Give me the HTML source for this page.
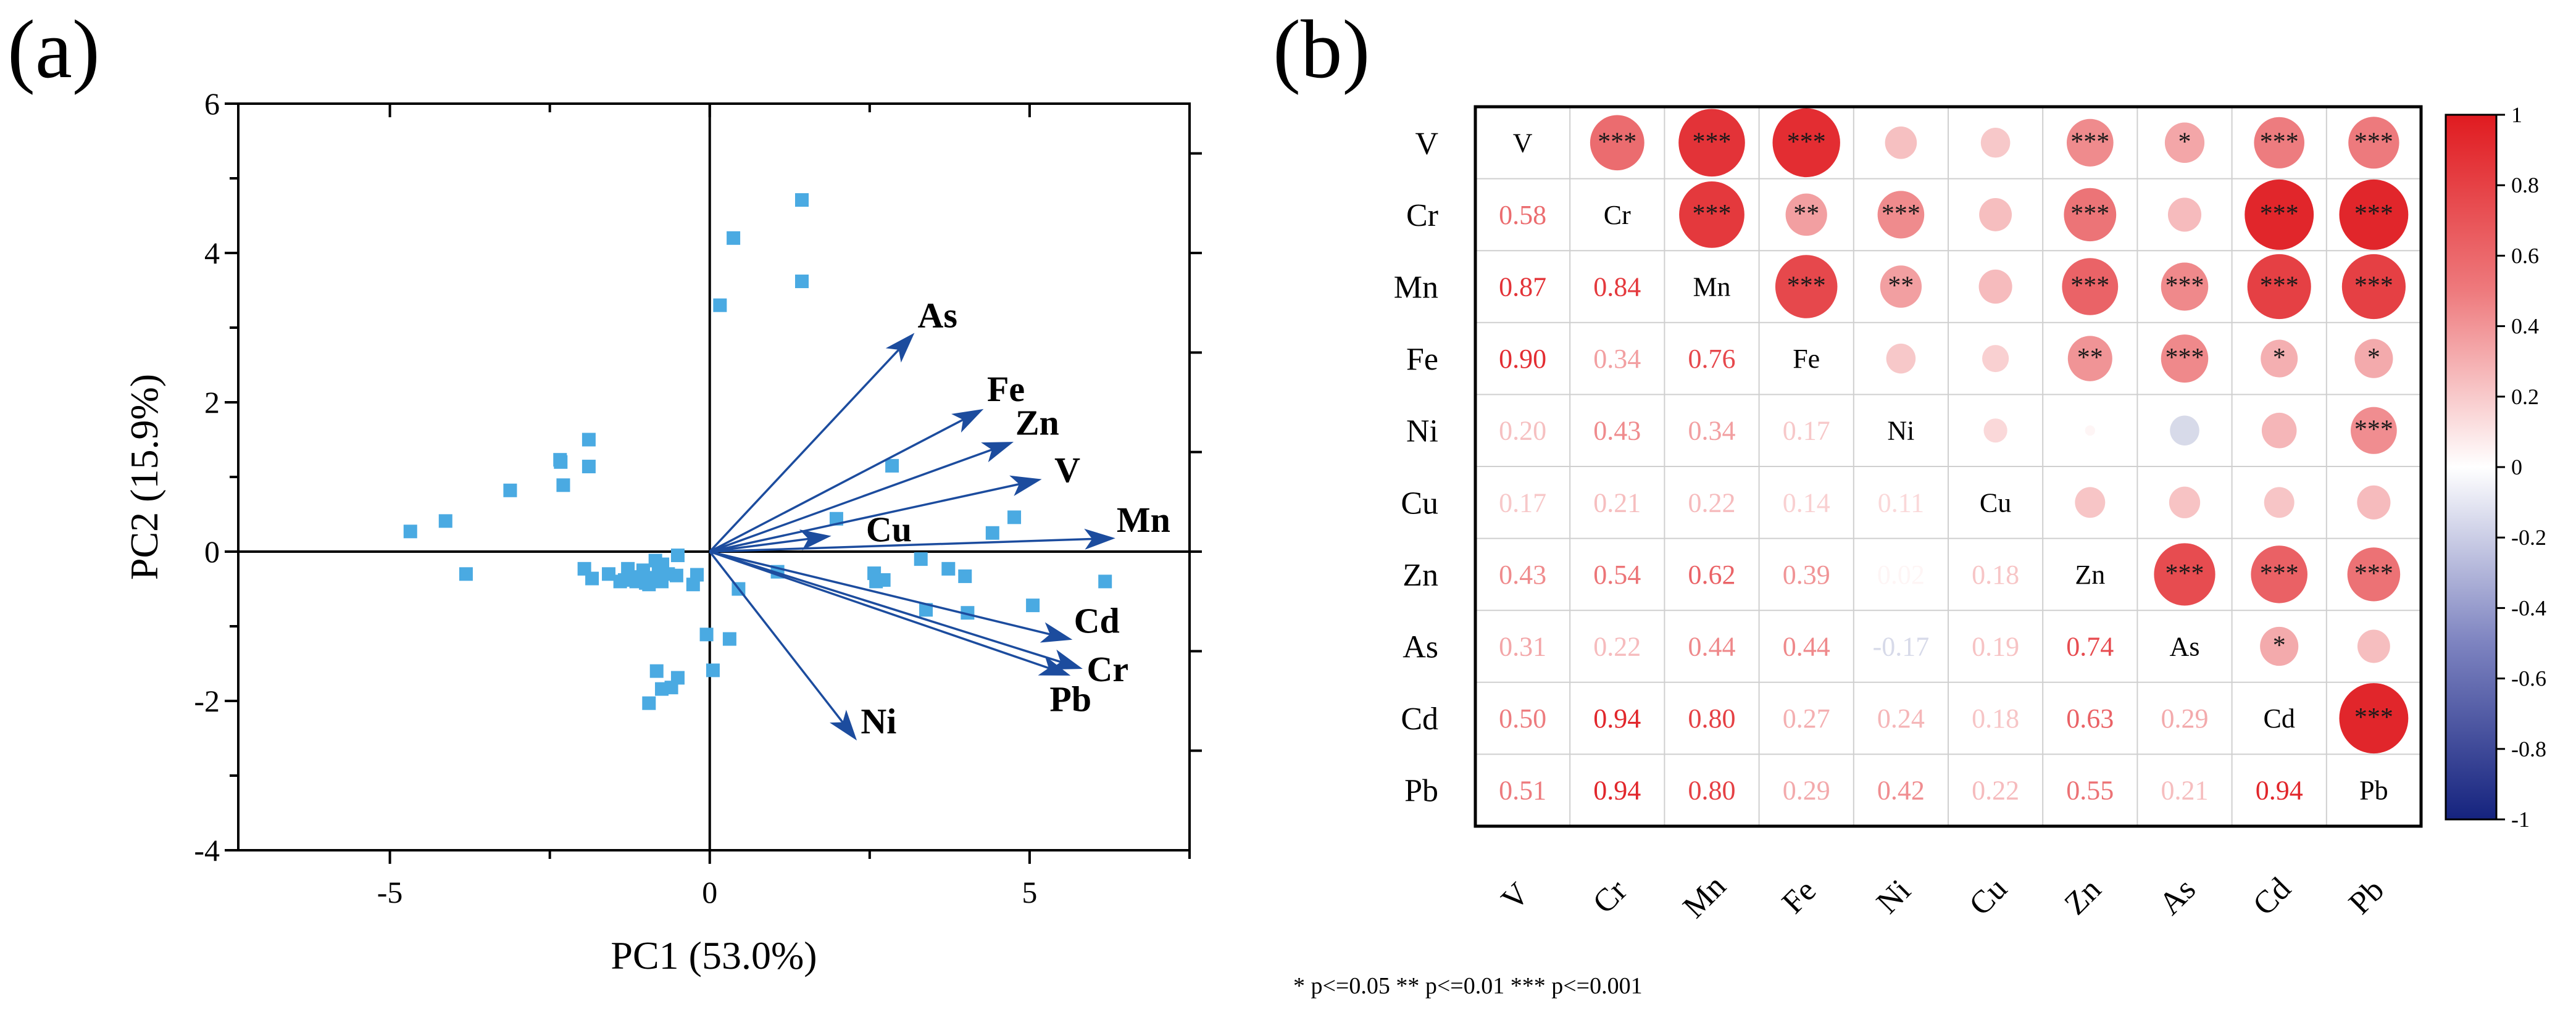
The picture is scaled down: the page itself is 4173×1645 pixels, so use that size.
<!DOCTYPE html>
<html><head><meta charset="utf-8"><style>
html,body{margin:0;padding:0;background:#fff;}
svg{display:block;font-family:"Liberation Serif",serif;}
</style></head><body>
<svg id="fig" width="4173" height="1645" viewBox="0 0 4173 1645" xmlns="http://www.w3.org/2000/svg">
<defs>
<linearGradient id="cbgrad" x1="0" y1="0" x2="0" y2="1">
<stop offset="0" stop-color="#e01b20"/><stop offset="0.25" stop-color="#ee7a7d"/><stop offset="0.5" stop-color="#ffffff"/><stop offset="0.75" stop-color="#7d83c0"/><stop offset="1" stop-color="#15237e"/>
</linearGradient>
</defs>
<g id="pa"></g>
<g id="pb"></g>
</svg>
<script>
// ---- Panel (a) data ----
const ptX=[1.44,0.37,1.44,0.16,2.85,1.98,4.76,4.42,3.3,3.73,3.99,2.57,2.6,2.72,6.18,5.05,3.38,4.03,1.06,0.45,-0.05,0.31,0.05,-0.83,-0.5,-0.6,-0.75,-0.95,-1.89,-2.34,-2.33,-1.89,-2.29,-3.12,-4.13,-4.68,-3.81,-0.5,-1.96,-1.84,-1.58,-1.28,-1.25,-1.04,-0.92,-0.8,-0.74,-0.95,-0.75,-0.52,-0.26,-0.2,-1.33,-1.15,-1.0,-0.85,-1.4,-0.65];
const ptY=[4.71,4.2,3.62,3.3,1.15,0.44,0.46,0.25,-0.1,-0.23,-0.33,-0.29,-0.4,-0.38,-0.4,-0.72,-0.78,-0.82,-0.27,-0.5,-1.11,-1.17,-1.59,-1.6,-1.69,-1.82,-1.84,-2.03,1.5,1.23,1.2,1.14,0.89,0.82,0.41,0.27,-0.3,-0.05,-0.23,-0.36,-0.3,-0.23,-0.34,-0.25,-0.35,-0.23,-0.17,-0.44,-0.4,-0.32,-0.44,-0.31,-0.38,-0.4,-0.42,-0.12,-0.4,-0.3];
const vecNames=["As","Fe","Zn","V","Mn","Cu","Cd","Cr","Pb","Ni"];
const vecX=[3.2,4.28,4.75,5.19,6.34,1.9,5.67,5.83,5.64,2.3];
const vecY=[2.93,1.91,1.47,0.97,0.18,0.21,-1.18,-1.57,-1.66,-2.53];
const labX=[3.56,4.63,5.12,5.59,6.78,2.8,6.05,6.22,5.64,2.64];
const labY=[3.17,2.18,1.73,1.1,0.43,0.3,-0.92,-1.57,-1.97,-2.27];
const xTicks=[-5,0,5];
const yTicks=[-4,-2,0,2,4,6];
// ---- Panel (b) data ----
const elems=["V","Cr","Mn","Fe","Ni","Cu","Zn","As","Cd","Pb"];
const corr=[
[1,0.58,0.87,0.90,0.20,0.17,0.43,0.31,0.50,0.51],
[0.58,1,0.84,0.34,0.43,0.21,0.54,0.22,0.94,0.94],
[0.87,0.84,1,0.76,0.34,0.22,0.62,0.44,0.80,0.80],
[0.90,0.34,0.76,1,0.17,0.14,0.39,0.44,0.27,0.29],
[0.20,0.43,0.34,0.17,1,0.11,0.02,-0.17,0.24,0.42],
[0.17,0.21,0.22,0.14,0.11,1,0.18,0.19,0.18,0.22],
[0.43,0.54,0.62,0.39,0.02,0.18,1,0.74,0.63,0.55],
[0.31,0.22,0.44,0.44,-0.17,0.19,0.74,1,0.29,0.21],
[0.50,0.94,0.80,0.27,0.24,0.18,0.63,0.29,1,0.94],
[0.51,0.94,0.80,0.29,0.42,0.22,0.55,0.21,0.94,1]];
const sig=[
["","***","***","***","","","***","*","***","***"],
["","","***","**","***","","***","","***","***"],
["","","","***","**","","***","***","***","***"],
["","","","","","","**","***","*","*"],
["","","","","","","","","","***"],
["","","","","","","","","",""],
["","","","","","","","***","***","***"],
["","","","","","","","","*",""],
["","","","","","","","","","***"],
["","","","","","","","","",""]];
const cbTicks=[1,0.8,0.6,0.4,0.2,0,-0.2,-0.4,-0.6,-0.8,-1];
const cbLabels=["1","0.8","0.6","0.4","0.2","0","-0.2","-0.4","-0.6","-0.8","-1"];

const NS="http://www.w3.org/2000/svg";
function mk(tag,attrs,parent,txt){const e=document.createElementNS(NS,tag);for(const k in attrs)e.setAttribute(k,attrs[k]);if(txt!==undefined)e.textContent=txt;parent.appendChild(e);return e;}

// ===== Panel (a) =====
const pa=document.getElementById('pa');
const L=386,R=1927,T=168,B=1378;
const xMin=-7.37,xMax=7.5,yMin=-4,yMax=6;
const sx=v=>L+(v-xMin)/(xMax-xMin)*(R-L);
const sy=v=>B-(v-yMin)/(yMax-yMin)*(B-T);
let e;
e=mk('text',{x:12,y:125,'font-size':135},pa,'(a)');


e=mk('rect',{x:L,y:T,width:R-L,height:B-T,fill:'none',stroke:'#000','stroke-width':4},pa);


e=mk('line',{x1:sx(0),x2:sx(0),y1:T,y2:B,stroke:'#000','stroke-width':4},pa);


e=mk('line',{x1:L,x2:R,y1:sy(0),y2:sy(0),stroke:'#000','stroke-width':4},pa);


for(let v=-7.5;v<=7.5;v+=2.5){if(v<xMin)continue;const x=sx(v);const major=(v%5===0);
 e=mk('line',{x1:x,x2:x,y1:B,y2:B+(major?22:14),stroke:'#000','stroke-width':4},pa);
 
 
 e=mk('line',{x1:x,x2:x,y1:T,y2:T+(major?22:14),stroke:'#000','stroke-width':4},pa);
 
 }
xTicks.forEach(v=>{e=mk('text',{x:sx(v),y:B+85,'font-size':50,'text-anchor':'middle'},pa,String(v));
 
 });
for(let v=-4;v<=6;v+=1){const y=sy(v);const major=(v%2===0);
 e=mk('line',{x1:L-(major?22:14),x2:L,y1:y,y2:y,stroke:'#000','stroke-width':4},pa);
 
 }
for(let k=-3;k<=4;k++){const v=k*4/3;if(v<=yMin||v>=yMax)continue;const y=sy(v);
 e=mk('line',{x1:R,x2:R+20,y1:y,y2:y,stroke:'#000','stroke-width':4},pa);
 
 }
yTicks.forEach(v=>{e=mk('text',{x:L-30,y:sy(v)+17,'font-size':50,'text-anchor':'end'},pa,String(v));
 
 });
e=mk('text',{x:(L+R)/2,y:1570,'font-size':64,'text-anchor':'middle'},pa,'PC1 (53.0%)');


e=mk('text',{x:0,y:0,'font-size':64,'text-anchor':'middle',transform:`translate(255,${(T+B)/2}) rotate(-90)`},pa,'PC2 (15.9%)');


ptX.forEach((v,i)=>{e=mk('rect',{x:sx(v)-11,y:sy(ptY[i])-11,width:22,height:22,fill:'#4aaae2'},pa);
 
 });
vecNames.forEach((n,i)=>{
 const x2=sx(vecX[i]),y2=sy(vecY[i]),ang=Math.atan2(y2-sy(0),x2-sx(0));
 const hl=50,hw=17;const bx=x2-hl*Math.cos(ang),by=y2-hl*Math.sin(ang);
 e=mk('line',{x1:sx(0),y1:sy(0),x2:bx+hl*0.3*Math.cos(ang),y2:by+hl*0.3*Math.sin(ang),stroke:'#1c4c9e','stroke-width':3.5},pa);
 
 
 const px=-Math.sin(ang)*hw,py=Math.cos(ang)*hw;
 e=mk('polygon',{points:`${x2},${y2} ${bx+px},${by+py} ${bx+hl*0.25*Math.cos(ang)},${by+hl*0.25*Math.sin(ang)} ${bx-px},${by-py}`,fill:'#1c4c9e'},pa);
 
 
 e=mk('text',{x:sx(labX[i]),y:sy(labY[i])+20,'font-size':58,'font-weight':'bold','text-anchor':'middle'},pa,n);
 
 
});

// ===== Panel (b) =====
const pb=document.getElementById('pb');
const ML=2390,MR=3922,MT=173,MB=1339;
const cw=(MR-ML)/10,ch=(MB-MT)/10;
function col(v){const a=Math.min(1,Math.abs(v));let c;
 if(v>=0){const b=Math.pow(a,0.8);c=[255+(224-255)*b,255+(27-255)*b,255+(32-255)*b];}else{c=[255+(21-255)*a,255+(35-255)*a,255+(126-255)*a];}
 return `rgb(${c.map(Math.round).join(',')})`;}
e=mk('text',{x:2062,y:125,'font-size':135},pb,'(b)');


for(let k=1;k<10;k++){
 e=mk('line',{x1:ML+k*cw,x2:ML+k*cw,y1:MT,y2:MB,stroke:'#cfcfcf','stroke-width':2},pb);
 
 
 e=mk('line',{x1:ML,x2:MR,y1:MT+k*ch,y2:MT+k*ch,stroke:'#cfcfcf','stroke-width':2},pb);
 
 }
for(let i=0;i<10;i++){for(let j=0;j<10;j++){
 const cx=ML+(j+0.5)*cw,cy=MT+(i+0.5)*ch,v=corr[i][j];
 if(i===j){e=mk('text',{x:cx,y:cy+15,'font-size':44,'text-anchor':'middle'},pb,elems[i]);
  
  }
 else if(j<i){e=mk('text',{x:cx,y:cy+15,'font-size':44,'text-anchor':'middle',fill:col(v)},pb,v.toFixed(2));
  
  }
 else{const d=112*Math.sqrt(Math.abs(v));
  e=mk('ellipse',{cx:cx,cy:cy,rx:d/2*1.03,ry:d/2*1.05,fill:col(v)},pb);
  
  
  if(sig[i][j]){e=mk('text',{x:cx,y:cy+12,'font-size':42,'text-anchor':'middle',fill:'#1a1a1a'},pb,sig[i][j]);
   
   }}
}}
e=mk('rect',{x:ML,y:MT,width:MR-ML,height:MB-MT,fill:'none',stroke:'#000','stroke-width':5},pb);


elems.forEach((n,i)=>{
 e=mk('text',{x:2330,y:MT+(i+0.5)*ch+18,'font-size':52,'text-anchor':'end'},pb,n);
 
 
 const cx=ML+(i+0.5)*cw;
 e=mk('text',{x:0,y:0,'font-size':52,'text-anchor':'middle',transform:`translate(${cx},${1465}) rotate(-45)`},pb,n);
 
 });
const CL=3962,CR=4044,CT=186,CB=1328;
e=mk('rect',{x:CL,y:CT,width:CR-CL,height:CB-CT,fill:'url(#cbgrad)',stroke:'#000','stroke-width':3},pb);


const cy=v=>CT+(1-v)/2*(CB-CT);
cbTicks.forEach((v,i)=>{
 e=mk('line',{x1:CR,x2:CR+14,y1:cy(v),y2:cy(v),stroke:'#000','stroke-width':3},pb);
 
 
 e=mk('text',{x:CR+24,y:cy(v)+12,'font-size':36},pb,cbLabels[i]);
 
 });
e=mk('text',{x:2095,y:1610,'font-size':38},pb,'* p<=0.05  ** p<=0.01  *** p<=0.001');


</script>
</body></html>
